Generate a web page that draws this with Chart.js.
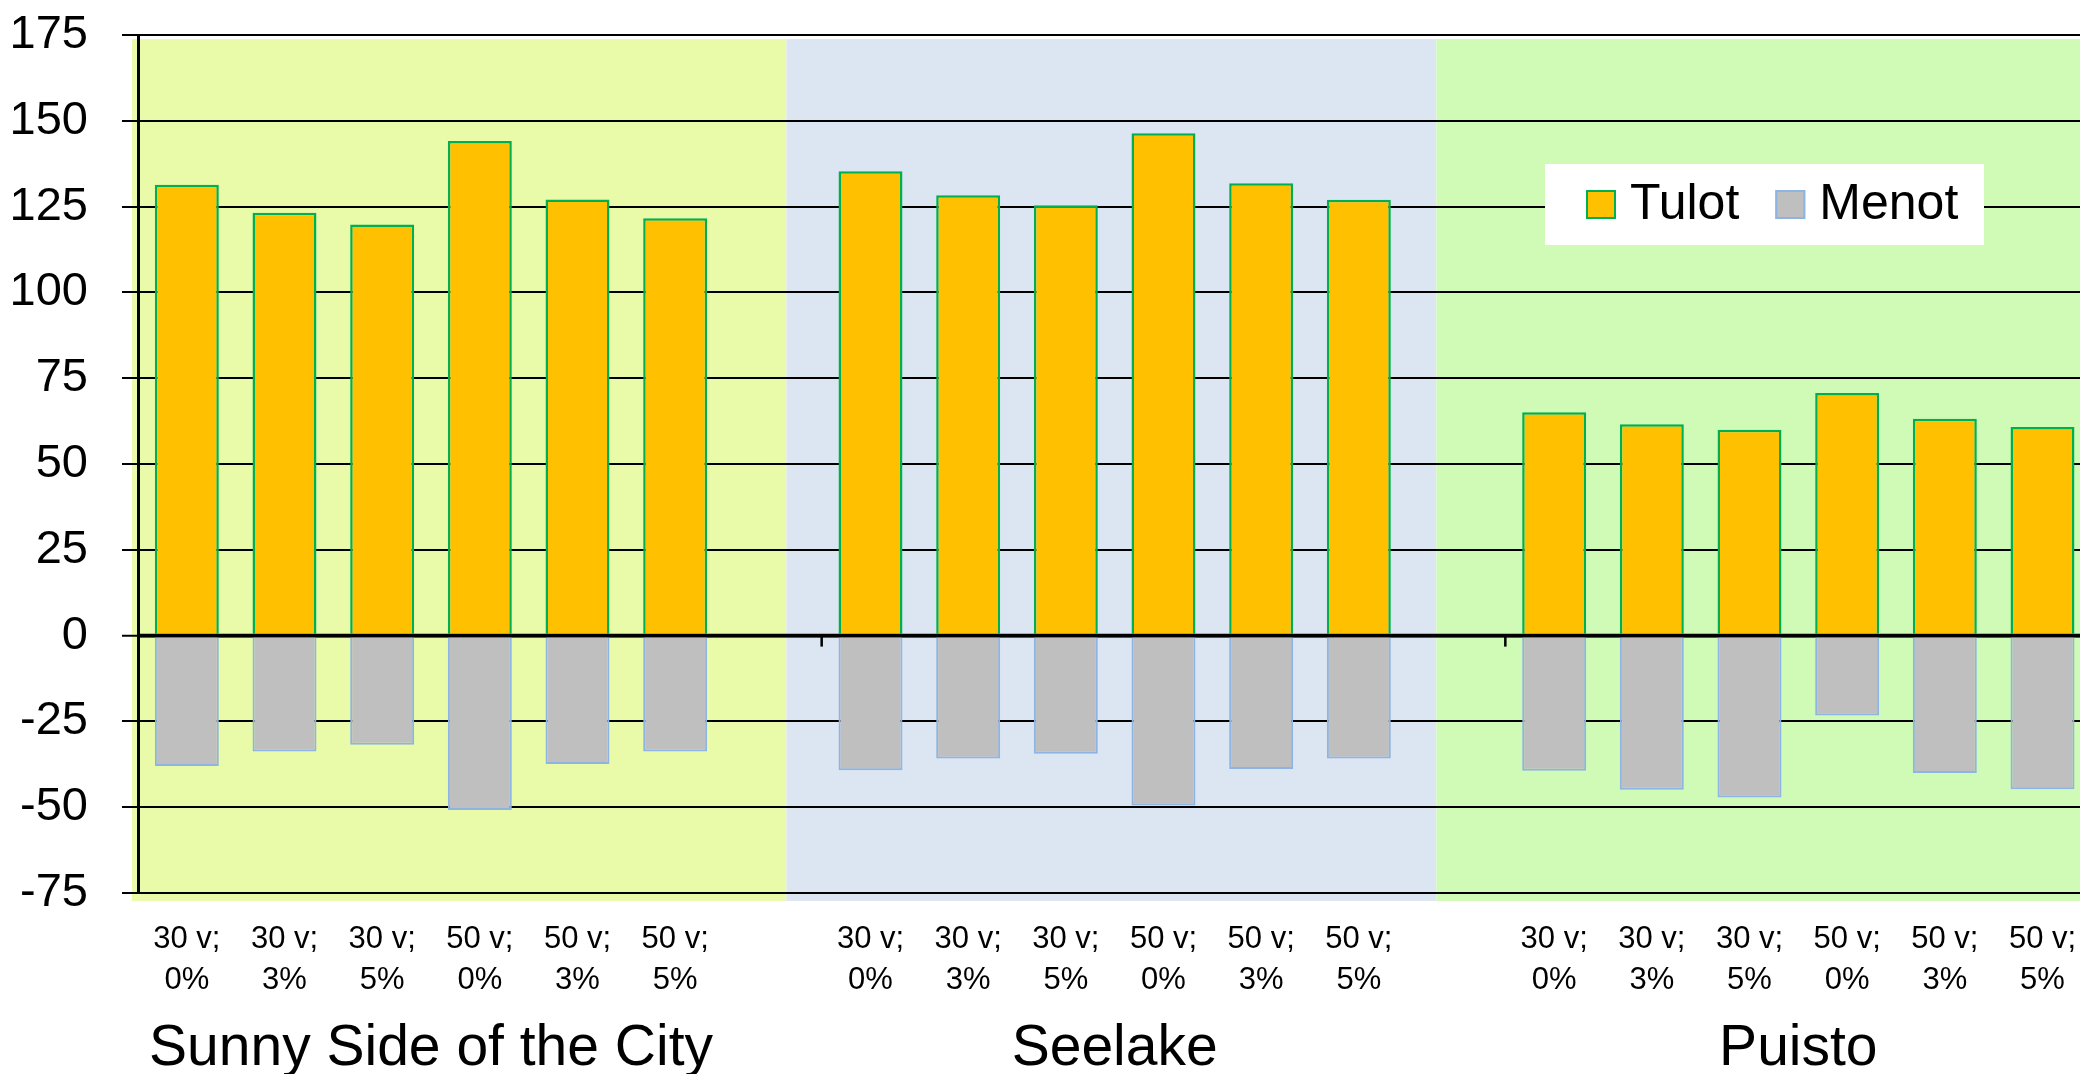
<!DOCTYPE html>
<html>
<head>
<meta charset="utf-8">
<script src="https://cdn.jsdelivr.net/npm/chart.js@4.4.0/dist/chart.umd.min.js"></script>
<style>
  html, body { margin: 0; padding: 0; background: #ffffff; overflow: hidden; }
  #wrap { position: relative; width: 2189px; height: 1074px; }
</style>
</head>
<body>
<div id="wrap"><canvas id="c"></canvas></div>
<script>
// Scenario groups and the six variants inside each group
const groups = ["Sunny Side of the City", "Seelake", "Puisto"];
const periods = ["30 v;", "30 v;", "30 v;", "50 v;", "50 v;", "50 v;"];
const rates = ["0%", "3%", "5%", "0%", "3%", "5%"];

// Income (Tulot) per variant
const tulotSunny   = [131.4, 123.2, 119.8, 144.1, 127.1, 121.6];
const tulotSeelake = [135.3, 128.3, 125.4, 146.4, 131.8, 127.0];
const tulotPuisto  = [65.1, 61.6, 60.0, 70.7, 63.2, 60.8];

// Expenses (Menot) per variant
const menotSunny   = [-38.0, -33.8, -31.8, -50.8, -37.4, -33.8];
const menotSeelake = [-39.2, -35.8, -34.4, -49.5, -38.9, -35.8];
const menotPuisto  = [-39.4, -44.9, -47.2, -23.3, -40.0, -44.8];

// Value axis ticks
const yMin = -75, yMax = 175, yStep = 25;

const seriesNames = ["Tulot", "Menot"];

// Flatten groups into one category axis, with an empty slot after each group
const tulotByGroup = [tulotSunny, tulotSeelake, tulotPuisto];
const menotByGroup = [menotSunny, menotSeelake, menotPuisto];
const labels = [], tulot = [], menot = [], groupRanges = [];
groups.forEach((g, gi) => {
  const first = labels.length;
  periods.forEach((p, i) => {
    labels.push([p, rates[i]]);
    tulot.push(tulotByGroup[gi][i]);
    menot.push(menotByGroup[gi][i]);
  });
  groupRanges.push([first, labels.length - 1]);
  labels.push("");
  tulot.push(null);
  menot.push(null);
});

const FONT = "'Liberation Sans', Arial, Helvetica, sans-serif";

// Coloured panels behind each group (edges in category units)
const bandPlugin = {
  id: 'bands',
  beforeDraw(chart, args, opts) {
    const x = chart.scales.x, y = chart.scales.y, ctx = chart.ctx;
    const p0 = x.getPixelForValue(0), step = x.getPixelForValue(1) - p0;
    const top = y.getPixelForValue(opts.top), bottom = y.getPixelForValue(opts.bottom);
    ctx.save();
    opts.colors.forEach((c, i) => {
      const l = p0 + opts.edges[i] * step;
      const r = p0 + opts.edges[i + 1] * step;
      ctx.fillStyle = c;
      ctx.fillRect(l, top, r - l, bottom - top);
    });
    ctx.restore();
  }
};

// Zero line on top of the bars, group separators, group names and legend
const overlayPlugin = {
  id: 'overlay',
  afterDatasetsDraw(chart) {
    const x = chart.scales.x, y = chart.scales.y, ctx = chart.ctx, ca = chart.chartArea;
    const y0 = y.getPixelForValue(0);
    ctx.save();
    ctx.strokeStyle = '#000';
    ctx.lineWidth = 3.5;
    ctx.beginPath();
    ctx.moveTo(ca.left, y0);
    ctx.lineTo(ca.right, y0);
    ctx.stroke();
    ctx.lineWidth = 2.5;
    groupRanges.slice(1).forEach(([first]) => {
      const bx = (x.getPixelForValue(first - 1) + x.getPixelForValue(first)) / 2;
      ctx.beginPath();
      ctx.moveTo(bx, y0);
      ctx.lineTo(bx, y0 + 11);
      ctx.stroke();
    });
    ctx.restore();
  },
  afterDraw(chart) {
    const x = chart.scales.x, ctx = chart.ctx, ca = chart.chartArea;
    ctx.save();
    // Group names under the variant labels
    ctx.fillStyle = '#000';
    ctx.font = '57px ' + FONT;
    ctx.textAlign = 'center';
    ctx.textBaseline = 'alphabetic';
    groups.forEach((g, i) => {
      const [a, b] = groupRanges[i];
      const cx = (x.getPixelForValue(a) + x.getPixelForValue(b)) / 2;
      ctx.fillText(g, cx, ca.bottom + 172);
    });

    // Legend box inside the plot
    const bx = ca.left + 1407, by = ca.top + 129, bw = 439, bh = 81;
    ctx.fillStyle = '#ffffff';
    ctx.fillRect(bx, by, bw, bh);
    ctx.font = '50px ' + FONT;
    ctx.textAlign = 'left';
    let cx = bx + 41;
    chart.data.datasets.forEach((ds) => {
      ctx.fillStyle = ds.backgroundColor;
      ctx.fillRect(cx, by + 26, 30, 29);
      ctx.strokeStyle = ds.borderColor;
      ctx.lineWidth = 2;
      ctx.strokeRect(cx + 1, by + 27, 28, 27);
      ctx.fillStyle = '#000';
      ctx.fillText(ds.label, cx + 44, by + 55);
      cx += 44 + ctx.measureText(ds.label).width + 36;
    });
    ctx.restore();
  }
};

new Chart(document.getElementById('c'), {
  type: 'bar',
  data: {
    labels: labels,
    datasets: [
      {
        label: seriesNames[0],
        data: tulot,
        backgroundColor: '#FFC000',
        borderColor: '#00B050',
        borderWidth: 2.5,
        barPercentage: 0.655,
        categoryPercentage: 1.0
      },
      {
        label: seriesNames[1],
        data: menot,
        backgroundColor: '#BFBFBF',
        borderColor: '#8DB4E2',
        borderWidth: 2,
        barPercentage: 0.655,
        categoryPercentage: 1.0
      }
    ]
  },
  options: {
    responsive: true,
    maintainAspectRatio: false,
    animation: false,
    layout: { padding: { top: 35, left: 0, right: 0, bottom: 0 } },
    plugins: {
      legend: { display: false },
      tooltip: { enabled: false },
      bands: {
        edges: [-0.563, 6.139, 12.794, 21],
        top: 173.8,
        bottom: -77.3,
        colors: ['#E9FBA9', '#DCE6F2', '#CFFBB6']
      }
    },
    scales: {
      x: {
        stacked: true,
        grid: { display: false, drawTicks: false },
        border: { display: false },
        ticks: {
          autoSkip: false,
          maxRotation: 0,
          minRotation: 0,
          padding: 26,
          color: '#000',
          font: { family: FONT, size: 31, lineHeight: 1.32 }
        },
        afterFit(scale) { scale.height = 181; }
      },
      y: {
        stacked: true,
        min: yMin,
        max: yMax,
        ticks: {
          stepSize: yStep,
          padding: 34,
          color: '#000',
          font: { family: FONT, size: 47 }
        },
        grid: {
          color: '#000',
          lineWidth: (c) => (c.tick && c.tick.value === 0 ? 3.5 : 2),
          tickLength: 16,
          tickColor: '#000',
          tickWidth: 2
        },
        border: { display: true, color: '#000', width: 3 },
        afterFit(scale) {
          scale.width = 138;
          scale.paddingTop = 0;
          scale.paddingBottom = 0;
        }
      }
    }
  },
  plugins: [bandPlugin, overlayPlugin]
});
</script>
</body>
</html>
